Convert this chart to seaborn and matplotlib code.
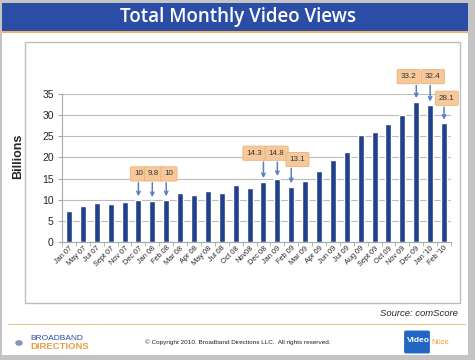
import numpy as np
import pandas as pd
import matplotlib.pyplot as plt
import seaborn as sns
from matplotlib.patches import Rectangle, FancyBboxPatch

# Data (billions of video views)
months = ['Jan 07', 'May 07', 'Jul 07', 'Sept 07', 'Nov 07', 'Dec 07', 'Jan 08',
          'Feb 08', 'Mar 08', 'Apr 08', 'May 08', 'Jul 08', 'Oct 08', 'Nov08',
          'Dec 08', 'Jan 09', 'Feb 09', 'Mar 09', 'Apr 09', 'Jun 09', 'Jul 09',
          'Aug 09', 'Sept 09', 'Oct 09', 'Nov 09', 'Dec 09', "Jan '10", "Feb '10"]
views = [7.3, 8.4, 9.2, 9.1, 9.5, 10.0, 9.8, 10.0, 11.6, 11.0, 12.1, 11.5, 13.5, 12.7,
         14.3, 14.8, 13.1, 14.5, 16.8, 19.5, 21.3, 25.3, 25.9, 27.8, 30.0, 33.2, 32.4, 28.1]

# callouts: month and label
callout_months = ['Dec 07', 'Jan 08', 'Feb 08', 'Dec 08', 'Jan 09', 'Feb 09',
                  'Dec 09', "Jan '10", "Feb '10"]
callout_labels = ['10', '9.8', '10', '14.3', '14.8', '13.1', '33.2', '32.4', '28.1']
# where the boxes sit (bar offset, data height)
box_dx = [0.0, 0.1, 0.2, -0.65, -0.05, 0.45, -0.55, 0.2, 0.2]
box_y = [16.1, 16.1, 16.1, 21.0, 21.0, 19.5, 39.1, 39.1, 34.0]

df = pd.DataFrame({'month': months, 'views': views})

sns.set_style('white')
plt.rcParams['font.family'] = ['Liberation Sans', 'DejaVu Sans']

fig = plt.figure(figsize=(4.75, 3.6), dpi=100)
fig.patch.set_facecolor('white')

# frame of the slide
fig.patches.append(Rectangle((0, 0), 1, 1, transform=fig.transFigure,
                             facecolor='#c4c4c4', edgecolor='none', zorder=-5))
fig.patches.append(Rectangle((2 / 475, 5 / 360), 466 / 475, 352 / 360,
                             transform=fig.transFigure, facecolor='white',
                             edgecolor='none', zorder=-4))
# title band
fig.patches.append(Rectangle((2 / 475, 1 - 31 / 360), 466 / 475, 28 / 360,
                             transform=fig.transFigure, facecolor='#2c4da6',
                             edgecolor='none', zorder=-3))
fig.patches.append(Rectangle((2 / 475, 1 - 33 / 360), 466 / 475, 2 / 360,
                             transform=fig.transFigure, facecolor='#f3b26a',
                             edgecolor='none', zorder=-3))
fig.text(0.5, 1 - 17 / 360, 'Total Monthly Video Views', color='white',
         fontsize=13.5, fontweight='semibold', ha='center', va='center',
         family=['Open Sans', 'DejaVu Sans'])

# chart box
fig.patches.append(Rectangle((25 / 475, 1 - 303 / 360), 435 / 475, 261 / 360,
                             transform=fig.transFigure, facecolor='white',
                             edgecolor='#bdbdbd', linewidth=1.0, zorder=-2))

ax = fig.add_axes([62 / 475, 1 - 242 / 360, 389 / 475, 148 / 360])
sns.barplot(data=df, x='month', y='views', color='#22418c', width=0.43,
            saturation=1, ax=ax)
ax.set_facecolor('none')
ax.set_ylim(0, 35)
ax.set_xlim(-0.5, len(months) - 0.5)
ax.set_yticks(range(0, 36, 5))
ax.yaxis.grid(True, color='#bcbcbc', linewidth=0.8)
ax.set_axisbelow(True)
for s in ['top', 'right']:
    ax.spines[s].set_visible(False)
for s in ['left', 'bottom']:
    ax.spines[s].set_color('#a8a8a8')
    ax.spines[s].set_linewidth(0.8)
ax.set_xlabel('')
ax.set_ylabel('')
ax.tick_params(axis='y', labelsize=7.5, length=3, color='#a8a8a8', left=True, pad=3)
ax.tick_params(axis='x', labelsize=5.3, length=0, pad=2)
ax.set_xticks(range(len(months)))
ax.set_xticklabels(months, rotation=45, ha='right', rotation_mode='anchor')
ax.set_xticks(np.arange(-0.5, len(months), 1), minor=True)
ax.tick_params(axis='x', which='minor', length=3, color='#a8a8a8', bottom=True)

fig.text(18 / 475, 1 - 156 / 360, 'Billions', fontsize=9, fontweight='bold',
         rotation=90, ha='center', va='center')

for m, lab, dx, by in zip(callout_months, callout_labels, box_dx, box_y):
    i = months.index(m)
    ax.text(i + dx, by, lab, ha='center', va='center', fontsize=5.8,
            color='#333333', clip_on=False,
            bbox=dict(boxstyle='round,pad=0.45,rounding_size=0.15',
                      facecolor='#f7c99a', edgecolor='#e8b27a', linewidth=0.6))
    ax.annotate('', xy=(i, views[i] + 0.8), xytext=(i, by - 2.1),
                annotation_clip=False,
                arrowprops=dict(arrowstyle='->', color='#5a7fc4', lw=1.1,
                                shrinkA=0, shrinkB=0, mutation_scale=6))

# source and footer
fig.text(458 / 475, 1 - 313 / 360, 'Source: comScore', fontsize=6.8,
         style='italic', ha='right', va='center')
fig.patches.append(Rectangle((8 / 475, 1 - 325 / 360), 458 / 475, 1 / 360,
                             transform=fig.transFigure, facecolor='#f0c08a',
                             edgecolor='none'))
fig.text(0.5, 1 - 342 / 360,
         '\u00a9 Copyright 2010. Broadband Directions LLC.  All rights reserved.',
         fontsize=4.6, ha='center', va='center', color='#222222')
fig.text(30 / 475, 1 - 338 / 360, 'BROADBAND', fontsize=6, color='#2c4da6',
         ha='left', va='center')
fig.text(30 / 475, 1 - 346.5 / 360, 'DIRECTIONS', fontsize=6.8, color='#e6a040',
         fontweight='bold', ha='left', va='center')
fig.patches.append(plt.Circle((19 / 475, 1 - 343 / 360), 0.008,
                              transform=fig.transFigure, facecolor='#8f95b8',
                              edgecolor='none'))
fig.patches.append(FancyBboxPatch((406 / 475, 1 - 352 / 360), 22 / 475, 20 / 360,
                                  boxstyle='round,pad=0.004',
                                  transform=fig.transFigure,
                                  facecolor='#2166c4', edgecolor='none'))
fig.text(418 / 475, 1 - 341 / 360, 'Video', fontsize=6, fontweight='bold',
         color='white', ha='center', va='center')
fig.text(431 / 475, 1 - 342 / 360, 'N\u00fcze', fontsize=5.5, color='#f0a030',
         ha='left', va='center')

fig.savefig('out.png', dpi=100)
